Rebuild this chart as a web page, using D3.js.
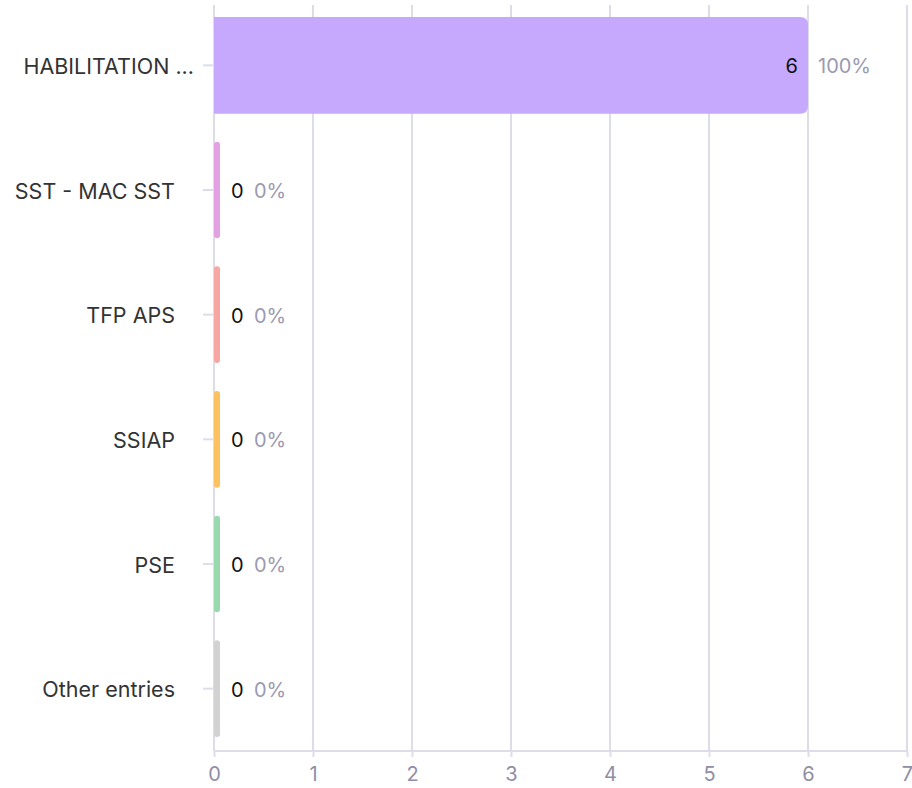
<!DOCTYPE html>
<html><head><meta charset="utf-8">
<script src="https://cdn.jsdelivr.net/npm/d3@7"></script>
<style>body{margin:0;background:#fff;} svg{display:block;font-family:Inter, "Open Sans", sans-serif;}</style>
</head><body>
<svg id="c" width="912" height="788"></svg>
<script>
const categories = ["HABILITATION ...", "SST - MAC SST", "TFP APS", "SSIAP", "PSE", "Other entries"];
const values = [6, 0, 0, 0, 0, 0];
const percents = ["100%", "0%", "0%", "0%", "0%", "0%"];
const colors = ["#c6a8fd", "#e3a1e4", "#f8a6a2", "#fdc160", "#99d9ae", "#d2d2d2"];
const xTicks = [0, 1, 2, 3, 4, 5, 6, 7];

const svg = d3.select("#c");
const x = d3.scaleLinear().domain([0, 7]).range([214, 907]);
const y = d3.scaleBand().domain(categories).range([3, 751]).paddingInner(0.224).paddingOuter(0.112);
const gridColor = "#dddde9";

// grid
svg.append("g").selectAll("line").data(xTicks).join("line")
  .attr("x1", d => x(d)).attr("x2", d => x(d)).attr("y1", 5).attr("y2", 751)
  .attr("stroke", gridColor).attr("stroke-width", 2);
// x axis line
svg.append("line").attr("x1", 214).attr("x2", 907).attr("y1", 751).attr("y2", 751)
  .attr("stroke", gridColor).attr("stroke-width", 2);
// x ticks
const xAxis = d3.axisBottom(x).tickValues(xTicks).tickSize(6).tickPadding(8).tickFormat(d3.format("d"));
const gx = svg.append("g").attr("transform", "translate(0,751)").call(xAxis);
gx.select(".domain").remove();
gx.selectAll(".tick line").attr("stroke", gridColor).attr("stroke-width", 2);
gx.selectAll(".tick text").attr("fill", "#8e8ea6").attr("font-size", 20).attr("font-family", "Inter, sans-serif").attr("dy", "0.8em");

// y axis
const yAxis = d3.axisLeft(y).tickSize(10).tickPadding(28);
const gy = svg.append("g").attr("transform", "translate(213,0)").call(yAxis);
gy.select(".domain").remove();
gy.selectAll(".tick line").attr("stroke", gridColor).attr("stroke-width", 2);
gy.selectAll(".tick text").attr("fill", "#333333").attr("font-size", 21.5).attr("font-family", "Inter, sans-serif").attr("dy", "0.4em")
  .attr("x", d => d.endsWith("...") ? -19 : -38);

// bars
const minW = 6;
function barPath(d, i) {
  const x0 = x(0), y0 = y(categories[i]), h = y.bandwidth();
  const w = Math.max(x(d) - x(0), minW);
  const r = d > 0 ? 8 : 3;
  const lr = d > 0 ? 0 : 3;
  return `M${x0 + lr},${y0} H${x0 + w - r} Q${x0 + w},${y0} ${x0 + w},${y0 + r} V${y0 + h - r} Q${x0 + w},${y0 + h} ${x0 + w - r},${y0 + h} H${x0 + lr} Q${x0},${y0 + h} ${x0},${y0 + h - lr} V${y0 + lr} Q${x0},${y0} ${x0 + lr},${y0} Z`;
}
svg.append("g").selectAll("path").data(values).join("path")
  .attr("d", (d, i) => barPath(d, i)).attr("fill", (d, i) => colors[i]);

// value labels
const lab = svg.append("g").attr("font-size", 20).attr("font-family", "Inter, sans-serif");
values.forEach((v, i) => {
  const cy = y(categories[i]) + y.bandwidth() / 2;
  if (v > 0) {
    lab.append("text").attr("x", x(v) - 10).attr("y", cy).attr("dy", "0.4em").attr("text-anchor", "end").attr("fill", "#111").text(v);
    lab.append("text").attr("x", x(v) + 10).attr("y", cy).attr("dy", "0.4em").attr("fill", "#9a9ab0").text(percents[i]);
  } else {
    lab.append("text").attr("x", x(0) + 17).attr("y", cy).attr("dy", "0.4em").attr("fill", "#111").text(v);
    lab.append("text").attr("x", x(0) + 40).attr("y", cy).attr("dy", "0.4em").attr("fill", "#9a9ab0").text(percents[i]);
  }
});
</script>
</body></html>
